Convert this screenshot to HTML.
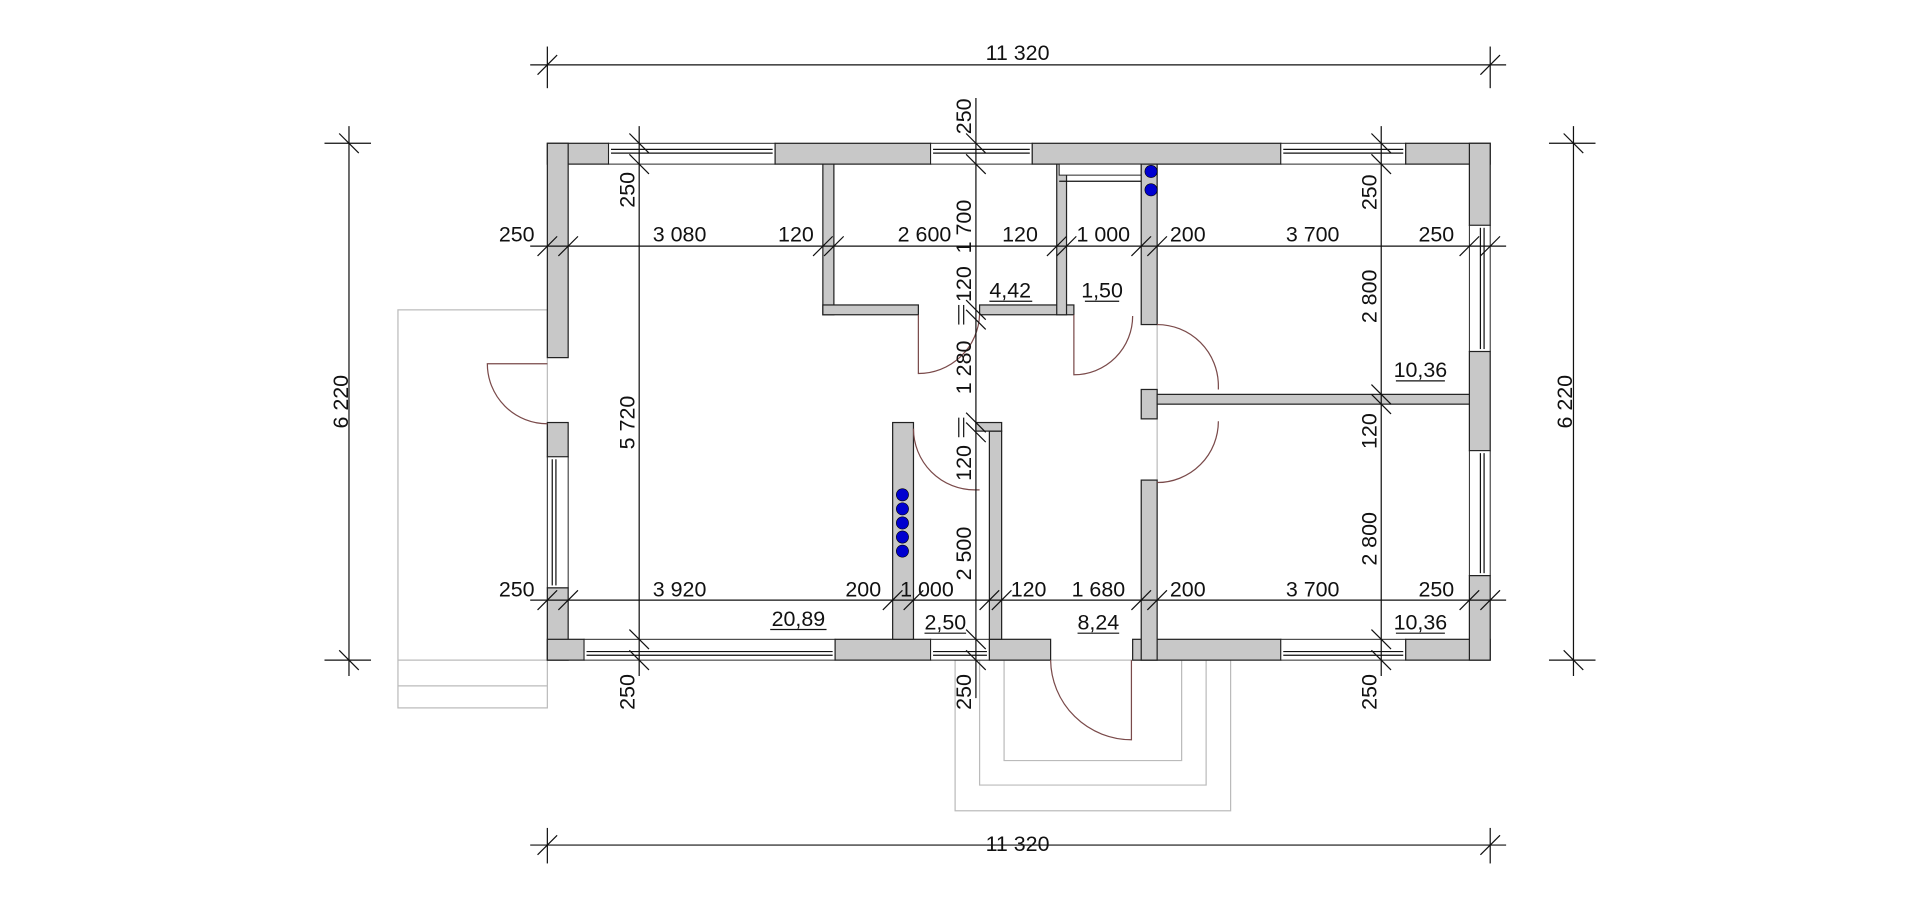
<!DOCTYPE html>
<html><head><meta charset="utf-8"><style>
html,body{margin:0;padding:0;background:#fff;width:1920px;height:921px;overflow:hidden}
svg{display:block}
text{font-family:"Liberation Sans Narrow","Liberation Sans",sans-serif;font-size:17.5px;fill:#111}
.w{fill:#c8c8c8;stroke:#222;stroke-width:1}
.win{fill:#fff;stroke:#222;stroke-width:0.8}
.d{stroke:#111;stroke-width:1;fill:none}
.t{stroke:#111;stroke-width:1}
.g{stroke:#bbb;stroke-width:1;fill:none}
.door{stroke:#7a4a4a;stroke-width:1;fill:none}
.u{stroke:#111;stroke-width:1}
</style></head><body>
<svg width="1920" height="921" viewBox="0 0 1568 752" preserveAspectRatio="none" xmlns="http://www.w3.org/2000/svg">
<g class="g">
<rect x="325" y="253" width="122" height="325"/>
<line x1="325" y1="560" x2="447" y2="560"/>
<line x1="325" y1="539" x2="447" y2="539"/>
<rect x="780" y="539" width="225" height="123"/>
<polyline points="800,539 800,641 985,641 985,539"/>
<polyline points="820,539 820,621 965,621 965,539"/>
<line x1="945" y1="265" x2="945" y2="392"/>
</g>

<g>
<rect class="w" x="447" y="117" width="50" height="17"/>
<rect class="win" x="497" y="117" width="136" height="17"/>
<line class="t" x1="499" y1="122" x2="631" y2="122"/><line class="t" x1="499" y1="125" x2="631" y2="125"/>
<rect class="w" x="633" y="117" width="127" height="17"/>
<rect class="win" x="760" y="117" width="83" height="17"/>
<line class="t" x1="762" y1="122" x2="841" y2="122"/><line class="t" x1="762" y1="125" x2="841" y2="125"/>
<rect class="w" x="843" y="117" width="203" height="17"/>
<rect class="win" x="1046" y="117" width="102" height="17"/>
<line class="t" x1="1048" y1="122" x2="1146" y2="122"/><line class="t" x1="1048" y1="125" x2="1146" y2="125"/>
<rect class="w" x="1148" y="117" width="69" height="17"/>

<rect class="w" x="447" y="117" width="17" height="175"/>
<rect class="w" x="447" y="345" width="17" height="28"/>
<rect class="win" x="447" y="373" width="17" height="107"/>
<line class="t" x1="451" y1="375" x2="451" y2="478"/><line class="t" x1="454" y1="375" x2="454" y2="478"/>
<rect class="w" x="447" y="480" width="17" height="59"/>
<rect class="w" x="447" y="522" width="30" height="17"/>

<rect class="win" x="477" y="522" width="205" height="17"/>
<line class="t" x1="479" y1="532" x2="680" y2="532"/><line class="t" x1="479" y1="535" x2="680" y2="535"/>
<rect class="w" x="682" y="522" width="78" height="17"/>
<rect class="win" x="760" y="522" width="48" height="17"/>
<line class="t" x1="762" y1="532" x2="806" y2="532"/><line class="t" x1="762" y1="535" x2="806" y2="535"/>
<rect class="w" x="808" y="522" width="50" height="17"/>
<rect class="w" x="925" y="522" width="121" height="17"/>
<rect class="win" x="1046" y="522" width="102" height="17"/>
<line class="t" x1="1048" y1="532" x2="1146" y2="532"/><line class="t" x1="1048" y1="535" x2="1146" y2="535"/>
<rect class="w" x="1148" y="522" width="69" height="17"/>

<rect class="w" x="1200" y="117" width="17" height="67"/>
<rect class="win" x="1200" y="184" width="17" height="103"/>
<line class="t" x1="1209" y1="186" x2="1209" y2="285"/><line class="t" x1="1212" y1="186" x2="1212" y2="285"/>
<rect class="w" x="1200" y="287" width="17" height="81"/>
<rect class="win" x="1200" y="368" width="17" height="102"/>
<line class="t" x1="1209" y1="370" x2="1209" y2="468"/><line class="t" x1="1212" y1="370" x2="1212" y2="468"/>
<rect class="w" x="1200" y="470" width="17" height="69"/>

<rect class="w" x="672" y="134" width="9" height="123"/>
<rect class="w" x="672" y="249" width="78" height="8"/>
<rect class="w" x="800" y="249" width="77" height="8"/>
<rect class="w" x="863" y="134" width="8" height="123"/>
<rect class="win" x="865" y="134" width="67" height="9"/>
<line class="t" x1="865" y1="148" x2="932" y2="148"/>
<rect class="w" x="932" y="134" width="13" height="131"/>
<rect class="w" x="932" y="318" width="13" height="24"/>
<rect class="w" x="945" y="322" width="255" height="8"/>
<rect class="w" x="932" y="392" width="13" height="147"/>
<rect class="w" x="729" y="345" width="17" height="177"/>
<rect class="w" x="808" y="352" width="10" height="170"/>
<rect class="w" x="797" y="345" width="21" height="7"/>
</g>

<g class="door">
<path d="M447,297 L398,297 A49,49 0 0 0 447,346"/>
<path d="M750,257 L750,305 A50,50 0 0 0 800,257"/>
<path d="M877,257 L877,306 A48,48 0 0 0 925,258"/>
<path d="M945,265 A50,50 0 0 1 995,315 L995,318"/>
<path d="M995,344 A50,50 0 0 1 945,394"/>
<path d="M746,350 A50,50 0 0 0 796,400 L800,400"/>
<path d="M858,539 A66,66 0 0 0 924,604 L924,539"/>
</g>

<g fill="#0000d0" stroke="#000" stroke-width="0.5">
<circle cx="940" cy="140" r="5"/><circle cx="940" cy="155" r="5"/>
<circle cx="737" cy="404" r="5"/><circle cx="737" cy="415.5" r="5"/><circle cx="737" cy="427" r="5"/><circle cx="737" cy="438.5" r="5"/><circle cx="737" cy="450" r="5"/>
</g>

<g class="d">
<line x1="433" y1="53" x2="1230" y2="53"/><line x1="447" y1="38" x2="447" y2="72"/><line x1="1217" y1="38" x2="1217" y2="72"/>
<line x1="433" y1="690" x2="1230" y2="690"/><line x1="447" y1="676" x2="447" y2="705"/><line x1="1217" y1="676" x2="1217" y2="705"/>
<line x1="285" y1="103" x2="285" y2="552"/><line x1="265" y1="117" x2="303" y2="117"/><line x1="265" y1="539" x2="303" y2="539"/>
<line x1="1285" y1="103" x2="1285" y2="552"/><line x1="1265" y1="117" x2="1303" y2="117"/><line x1="1265" y1="539" x2="1303" y2="539"/>
<line x1="433" y1="201" x2="1230" y2="201"/>
<line x1="433" y1="490" x2="1230" y2="490"/>
<line x1="522" y1="103" x2="522" y2="552"/>
<line x1="797" y1="80" x2="797" y2="570"/>
<line x1="1128" y1="103" x2="1128" y2="552"/>
</g>
<g class="t">
<line x1="439" y1="61" x2="455" y2="45"/><line x1="1209" y1="61" x2="1225" y2="45"/>
<line x1="439" y1="698" x2="455" y2="682"/><line x1="1209" y1="698" x2="1225" y2="682"/>
<line x1="277" y1="109" x2="293" y2="125"/><line x1="277" y1="531" x2="293" y2="547"/>
<line x1="1277" y1="109" x2="1293" y2="125"/><line x1="1277" y1="531" x2="1293" y2="547"/>
<line x1="439" y1="209" x2="455" y2="193"/><line x1="456" y1="209" x2="472" y2="193"/>
<line x1="664" y1="209" x2="680" y2="193"/><line x1="673" y1="209" x2="689" y2="193"/>
<line x1="855" y1="209" x2="871" y2="193"/><line x1="863" y1="209" x2="879" y2="193"/>
<line x1="924" y1="209" x2="940" y2="193"/><line x1="937" y1="209" x2="953" y2="193"/>
<line x1="1192" y1="209" x2="1208" y2="193"/><line x1="1209" y1="209" x2="1225" y2="193"/>
<line x1="439" y1="498" x2="455" y2="482"/><line x1="456" y1="498" x2="472" y2="482"/>
<line x1="721" y1="498" x2="737" y2="482"/><line x1="738" y1="498" x2="754" y2="482"/>
<line x1="800" y1="498" x2="816" y2="482"/><line x1="810" y1="498" x2="826" y2="482"/>
<line x1="924" y1="498" x2="940" y2="482"/><line x1="937" y1="498" x2="953" y2="482"/>
<line x1="1192" y1="498" x2="1208" y2="482"/><line x1="1209" y1="498" x2="1225" y2="482"/>
<line x1="514" y1="109" x2="530" y2="125"/><line x1="514" y1="126" x2="530" y2="142"/>
<line x1="514" y1="514" x2="530" y2="530"/><line x1="514" y1="531" x2="530" y2="547"/>
<line x1="789" y1="109" x2="805" y2="125"/><line x1="789" y1="126" x2="805" y2="142"/>
<line x1="789" y1="245" x2="805" y2="261"/><line x1="789" y1="253" x2="805" y2="269"/>
<line x1="789" y1="337" x2="805" y2="353"/><line x1="789" y1="345" x2="805" y2="361"/>
<line x1="789" y1="514" x2="805" y2="530"/><line x1="789" y1="531" x2="805" y2="547"/>
<line x1="783" y1="249" x2="783" y2="265"/><line x1="787" y1="249" x2="787" y2="265"/>
<line x1="783" y1="341" x2="783" y2="357"/><line x1="787" y1="341" x2="787" y2="357"/>
<line x1="1120" y1="109" x2="1136" y2="125"/><line x1="1120" y1="126" x2="1136" y2="142"/>
<line x1="1120" y1="314" x2="1136" y2="330"/><line x1="1120" y1="322" x2="1136" y2="338"/>
<line x1="1120" y1="514" x2="1136" y2="530"/><line x1="1120" y1="531" x2="1136" y2="547"/>
</g>

<g text-anchor="middle">
<text x="831" y="49">11 320</text>
<text x="831" y="695">11 320</text>
<text transform="translate(284,328) rotate(-90)">6 220</text>
<text transform="translate(1284,328) rotate(-90)">6 220</text>

<text x="422" y="197">250</text><text x="555" y="197">3 080</text><text x="650" y="197">120</text>
<text x="755" y="197">2 600</text><text x="833" y="197">120</text><text x="901" y="197">1 000</text>
<text x="970" y="197">200</text><text x="1072" y="197">3 700</text><text x="1173" y="197">250</text>

<text x="422" y="487">250</text><text x="555" y="487">3 920</text><text x="705" y="487">200</text>
<text x="757" y="487">1 000</text><text x="840" y="487">120</text><text x="897" y="487">1 680</text>
<text x="970" y="487">200</text><text x="1072" y="487">3 700</text><text x="1173" y="487">250</text>

<text transform="translate(518,155) rotate(-90)">250</text>
<text transform="translate(518,345) rotate(-90)">5 720</text>
<text transform="translate(518,565) rotate(-90)">250</text>

<text transform="translate(793,95) rotate(-90)">250</text>
<text transform="translate(793,185) rotate(-90)">1 700</text>
<text transform="translate(793,232) rotate(-90)">120</text>
<text transform="translate(793,300) rotate(-90)">1 280</text>
<text transform="translate(793,378) rotate(-90)">120</text>
<text transform="translate(793,452) rotate(-90)">2 500</text>
<text transform="translate(793,565) rotate(-90)">250</text>

<text transform="translate(1124,157) rotate(-90)">250</text>
<text transform="translate(1124,242) rotate(-90)">2 800</text>
<text transform="translate(1124,352) rotate(-90)">120</text>
<text transform="translate(1124,440) rotate(-90)">2 800</text>
<text transform="translate(1124,565) rotate(-90)">250</text>

<text x="825" y="243">4,42</text><text x="900" y="243">1,50</text>
<text x="1160" y="308">10,36</text>
<text x="652" y="511">20,89</text><text x="772" y="514">2,50</text>
<text x="897" y="514">8,24</text><text x="1160" y="514">10,36</text>
</g>
<g class="u">
<line x1="808" y1="246" x2="843" y2="246"/><line x1="886" y1="246" x2="914" y2="246"/>
<line x1="1140" y1="311" x2="1180" y2="311"/>
<line x1="629" y1="514" x2="675" y2="514"/><line x1="755" y1="517" x2="789" y2="517"/>
<line x1="880" y1="517" x2="914" y2="517"/><line x1="1140" y1="517" x2="1180" y2="517"/>
</g>
</svg>
</body></html>
